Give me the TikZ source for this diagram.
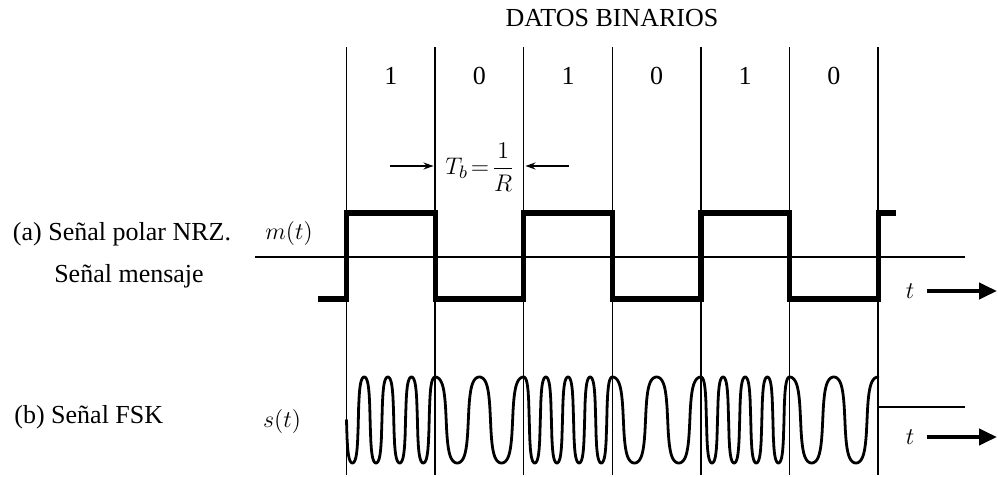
\documentclass[tikz,border=0pt]{standalone}
\usepackage{fontspec}
\setmainfont{Liberation Serif}
\usetikzlibrary{arrows.meta}

\tikzset{
  bitline/.style={line width=0.75pt},
  nrz/.style={line width=2.6pt, line join=miter},
  fsk/.style={line width=1.4pt, line join=round, line cap=round},
  tarrow/.style={line width=2pt, -{Triangle[length=9pt,width=8pt]}},
  tbarrow/.style={line width=0.6pt, -{Stealth[length=5pt,width=3.5pt]}},
  lbl/.style={font=\fontsize{13}{15}\selectfont, inner sep=0pt}
}

\begin{document}
\begin{tikzpicture}[x=0.5pt, y=-0.5pt]
  \useasboundingbox (0,0) rectangle (998,477);
  % title and bit values
  \node[lbl] (datos) at (612,18) {DATOS BINARIOS};
  \foreach \k/\b in {0/1,1/0,2/1,3/0,4/1,5/0}
    \node[lbl] (bit\k) at ({346.5+88.6*\k+44.3},76) {\b};
  % bit boundaries
  \foreach \k in {0,...,6} {
    \coordinate (top\k) at ({346.5+88.6*\k},47);
    \coordinate (bot\k) at ({346.5+88.6*\k},475);
    \draw[bitline] (top\k) -- (bot\k);
  }
  % T_b = 1/R
  \node[lbl] (tb) at (480,167) {$T_b\!=\!\displaystyle\frac{1}{R}$};
  \coordinate (tbA) at (390,166);
  \coordinate (tbB) at (433.5,166);
  \coordinate (tbC) at (569,166);
  \coordinate (tbD) at (525.5,166);
  \draw[tbarrow] (tbA) -- (tbB);
  \draw[tbarrow] (tbC) -- (tbD);
  % (a) polar NRZ message
  \node[lbl] (siga) at (122,234) {(a) Señal polar NRZ.};
  \node[lbl] (sigam) at (129,276) {Señal mensaje};
  \node[lbl] (mt) at (289,233) {$m(t)$};
  \coordinate (axL) at (255,257);
  \coordinate (axR) at (965,257);
  \draw[bitline] (axL) -- (axR);
  \draw[nrz] (318,299) -| (346.5,213) -| (435.1,299) -| (523.7,213)
    -| (612.3,299) -| (700.9,213) -| (789.5,299) -| (878.1,213) -- (896,213);
  \node[lbl] (ta) at (910,291) {$t$};
  \coordinate (taR) at (997,291);
  \draw[tarrow] ([xshift=6pt]ta.east) -- (taR);
  % (b) FSK signal
  \node[lbl, anchor=west] (sigb) at (14,417) {(b) Señal FSK};
  \node[lbl] (st) at (282,421) {$s(t)$};
  \foreach \k/\pa/\pb in {0/90/1440, 1/0/720, 2/0/1440, 3/0/720, 4/0/1440, 5/0/720}
    \draw[fsk] plot[domain=0:1, samples=161]
      ({346.5+88.6*(\k+\x)},
       {420-43*1.3*cos(\pa+(\pb-\pa)*\x)/(abs(cos(\pa+(\pb-\pa)*\x))+0.3)});
  \coordinate (fend) at (878.1,407);
  \coordinate (fR) at (965,407);
  \draw[bitline] (fend) -- (fR);
  \node[lbl] (tf) at (910,437) {$t$};
  \coordinate (tfR) at (997,437);
  \draw[tarrow] ([xshift=6pt]tf.east) -- (tfR);
\end{tikzpicture}
\end{document}
